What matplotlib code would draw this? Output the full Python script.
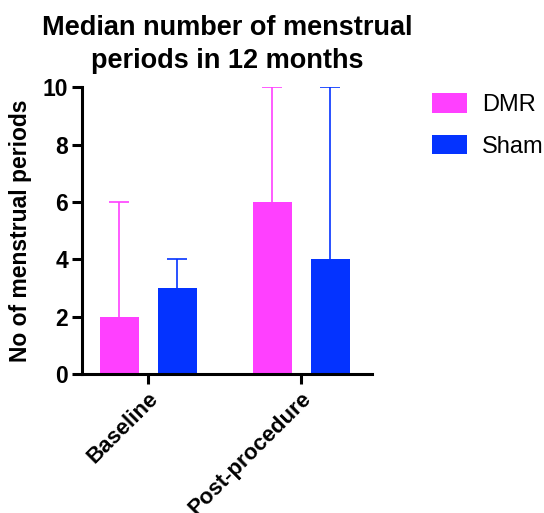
import numpy as np, matplotlib
matplotlib.use("Agg"); import matplotlib.pyplot as plt
from matplotlib.patches import Patch

plt.rcParams["font.family"] = ["Liberation Sans", "DejaVu Sans"]

groups = ["Baseline", "Post-procedure"]
series = ["DMR", "Sham"]
medians = {"DMR": [2, 6], "Sham": [3, 4]}
maxima = {"DMR": [6, 10], "Sham": [4, 10]}
colors = {"DMR": "#FF40FF", "Sham": "#0433FF"}

fig = plt.figure(figsize=(5.44, 5.13), dpi=100)
ax = fig.add_axes([0.151, 0.271, 0.533, 0.559])
x = np.arange(len(groups))
offs = {"DMR": -0.187, "Sham": 0.192}
for s in series:
    med = np.array(medians[s]); mx = np.array(maxima[s])
    ax.bar(x + offs[s], med, width=0.25, color=colors[s], zorder=2)
    # upper error only (to max), drop the lower cap
    _, caps, _ = ax.errorbar(x + offs[s], med, yerr=[np.zeros_like(med), mx - med],
                             fmt="none", ecolor=colors[s], elinewidth=1.2,
                             capsize=7, capthick=1.2, zorder=1)
    caps[0].set_visible(False)

ax.set_xlim(-0.431, 1.464)
ax.set_ylim(0, 10)
ax.set_yticks([0, 2, 4, 6, 8, 10])
ax.set_xticks(x)
ax.set_xticklabels(groups, rotation=45, ha="right", rotation_mode="anchor",
                   fontsize=16, fontweight="bold")
for lab in ax.get_yticklabels():
    lab.set_fontsize(16.5); lab.set_fontweight("bold")
for sp in ["top", "right"]:
    ax.spines[sp].set_visible(False)
for sp in ["left", "bottom"]:
    ax.spines[sp].set_linewidth(2.2)
ax.tick_params(axis="both", width=2.2, length=7, pad=3)
ax.set_ylabel("No of menstrual periods", fontsize=16.5, fontweight="bold", labelpad=8)
ax.set_title("Median number of menstrual\nperiods in 12 months", fontsize=19.5,
             fontweight="bold", pad=14, linespacing=1.35)

handles = [Patch(facecolor=colors[s], label=s) for s in series]
fig.legend(handles=handles, loc="upper left", bbox_to_anchor=(0.794, 0.818),
           frameon=False, fontsize=17, handlelength=1.48, handleheight=0.9,
           labelspacing=0.78, handletextpad=0.64, borderpad=0, borderaxespad=0)

plt.savefig("out.png", dpi=100)
